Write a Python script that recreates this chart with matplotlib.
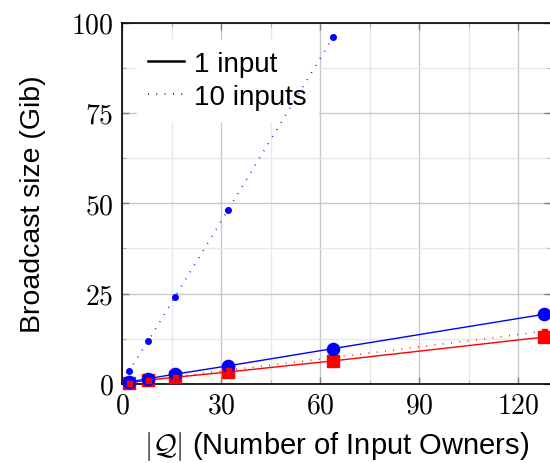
import matplotlib
matplotlib.use("Agg")
import matplotlib.pyplot as plt
from matplotlib.ticker import MultipleLocator, FuncFormatter
from matplotlib.lines import Line2D

plt.rcParams['font.family'] = ['Liberation Sans', 'DejaVu Sans']
plt.rcParams['mathtext.fontset'] = 'cm'

# =============================================================================
# Data
# =============================================================================
owners      = [2, 8, 16, 32, 64, 128]
owners_big  = [2, 8, 16, 32, 64]

red_1in     = [0.3, 1.1, 1.85, 3.3, 6.4, 13.0]
blue_1in    = [0.5, 1.5, 2.7, 5.0, 9.8, 19.3]
red_10in    = [0.3, 1.0, 1.9, 3.8, 7.3, 14.6]
blue_10in   = [3.5, 12.0, 24.0, 48.0, 96.0]

x_ticks = [0, 30, 60, 90, 120]
y_ticks = [0, 25, 50, 75, 100]

fig = plt.figure(figsize=(5.5, 4.64), dpi=100)
ax = fig.add_axes([122 / 550, 79 / 464, 429 / 550, 361.5 / 464])

dotted = (0, (0.5, 4.5))
ax.plot(owners, red_1in, color='red', lw=1.0, marker='s', ms=8.6, zorder=3, clip_on=False)
ax.plot(owners, blue_1in, color='blue', lw=1.0, marker='o', ms=8.8, zorder=4, clip_on=False)
ax.plot(owners, red_10in, color='red', lw=1.2, ls=dotted, marker='s', ms=3.6, zorder=5, clip_on=False)
ax.plot(owners_big, blue_10in, color='blue', lw=1.2, ls=dotted, marker='o', ms=4.0, zorder=6, clip_on=False)

ax.set_xlim(0, 130)
ax.set_ylim(0, 100)
ax.set_xticks(x_ticks)
ax.set_yticks(y_ticks)
ax.xaxis.set_minor_locator(MultipleLocator(15))
ax.yaxis.set_minor_locator(MultipleLocator(12.5))
fmt = FuncFormatter(lambda v, p: f'${v:g}$')
ax.xaxis.set_major_formatter(fmt)
ax.yaxis.set_major_formatter(fmt)

ax.grid(which='major', color='#c8c8c8', lw=1.0, zorder=0)
ax.grid(which='minor', color='#e8e8e8', lw=1.0, zorder=0)
ax.set_axisbelow(True)

ax.tick_params(which='both', direction='in', top=True, right=True, color='#808080')
ax.tick_params(which='major', length=5, width=1.0, labelsize=20, pad=6)
ax.tick_params(which='minor', length=3, width=0.8, color='#b0b0b0')
for s in ax.spines.values():
    s.set_linewidth(1.2)

ax.set_xlabel(r'$|\mathcal{Q}|$ (Number of Input Owners)', fontsize=21, labelpad=8)
ax.set_ylabel('Broadcast size (Gib)', fontsize=20.5, labelpad=18)

handles = [Line2D([0], [0], color='black', lw=1.8),
           Line2D([0], [0], color='black', lw=1.2, ls=dotted)]
leg = ax.legend(handles, ['1 input', '10 inputs'], loc='upper left', fontsize=20,
                bbox_to_anchor=(0.015, 0.975),
                frameon=True, fancybox=False, framealpha=1, edgecolor='white',
                handlelength=1.3, handletextpad=0.36, borderaxespad=0.3,
                labelspacing=0.25)
leg.set_zorder(2)

plt.savefig('out.png', dpi=100)
